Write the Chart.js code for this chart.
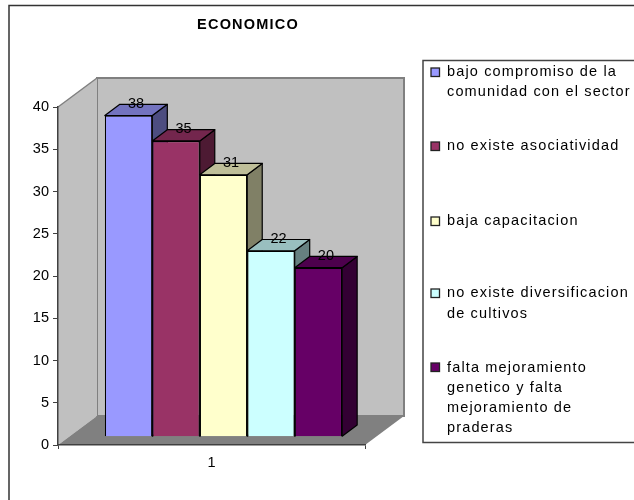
<!DOCTYPE html>
<html>
<head>
<meta charset="utf-8">
<style>
  html, body { margin: 0; padding: 0; background: #fff; }
  canvas { display: block; }
</style>
<script src="https://cdn.jsdelivr.net/npm/chart.js@4/dist/chart.umd.min.js"></script>
</head>
<body>
<canvas id="chart" width="634" height="500"></canvas>
<script>
const chartTitle = 'ECONOMICO';
const categories = ['1'];
const seriesNames = [
  ['bajo compromiso de la', 'comunidad con el sector'],
  ['no existe asociatividad'],
  ['baja capacitacion'],
  ['no existe diversificacion', 'de cultivos'],
  ['falta mejoramiento', 'genetico y falta', 'mejoramiento de', 'praderas']
];
const seriesValues = [38, 35, 31, 22, 20];
const frontColors = ['#9999ff', '#993366', '#ffffcc', '#ccffff', '#660066'];
const topColors = ['#7373bf', '#73264d', '#bfbf99', '#99bfbf', '#4d004d'];
const sideColors = ['#4d4d80', '#4d1a33', '#808066', '#668080', '#330033'];
const legendMarkerY = [72, 146, 221, 293, 367];
const legendTextY = [[72, 92], [146], [221], [293, 314], [368, 388, 408, 428]];

const fontFamily = '"Liberation Sans", Arial, sans-serif';
const fontSize = 14.5;
const textSpacing = '1.15px';

// the depth of the box, and where the bars sit inside it
const wallDepth = { x: 39, y: -29 };
const barShift = { x: 12, y: -8.3 };
const barDepth = { x: 15, y: -11.3 };

function poly(ctx, pts, fill, stroke, lineWidth) {
  ctx.beginPath();
  pts.forEach((p, i) => i ? ctx.lineTo(p[0], p[1]) : ctx.moveTo(p[0], p[1]));
  ctx.closePath();
  if (fill) {
    ctx.fillStyle = fill;
    ctx.fill();
  }
  if (stroke) {
    ctx.strokeStyle = stroke;
    ctx.lineWidth = lineWidth;
    ctx.stroke();
  }
}

const fakeThreeD = {
  id: 'fakeThreeD',
  beforeDraw(chart) {
    const ctx = chart.ctx;
    const a = chart.chartArea;
    ctx.save();

    // outer frame, the picture cuts it off on the right and at the bottom
    ctx.strokeStyle = '#333333';
    ctx.lineWidth = 1.5;
    ctx.beginPath();
    ctx.moveTo(9, 500);
    ctx.lineTo(9, 5.5);
    ctx.lineTo(634, 5.5);
    ctx.stroke();

    // walls and floor
    const bl = a.left + wallDepth.x, br = a.right + wallDepth.x;
    const bt = a.top + wallDepth.y, bb = a.bottom + wallDepth.y;
    poly(ctx, [[bl, bt], [br, bt], [br, bb], [bl, bb]], '#c0c0c0', '#808080', 2);
    poly(ctx, [[a.left, a.top], [bl, bt], [bl, bb], [a.left, a.bottom]], '#c0c0c0', null);
    ctx.strokeStyle = '#808080';
    ctx.lineWidth = 1.5;
    ctx.beginPath();
    ctx.moveTo(a.left, a.top);
    ctx.lineTo(bl, bt);
    ctx.stroke();
    poly(ctx, [[a.left, a.bottom], [a.right, a.bottom], [br, bb], [bl, bb]], '#808080', null);

    // title and legend
    ctx.letterSpacing = '1.2px';
    ctx.fillStyle = '#000';
    ctx.textBaseline = 'middle';
    ctx.textAlign = 'center';
    ctx.font = 'bold ' + fontSize + 'px ' + fontFamily;
    ctx.fillText(chartTitle, 248, 25);

    ctx.strokeStyle = '#444444';
    ctx.lineWidth = 1.5;
    ctx.beginPath();
    ctx.moveTo(634, 60.5);
    ctx.lineTo(423, 60.5);
    ctx.lineTo(423, 442.5);
    ctx.lineTo(634, 442.5);
    ctx.stroke();

    ctx.letterSpacing = textSpacing;
    ctx.textAlign = 'left';
    ctx.font = fontSize + 'px ' + fontFamily;
    seriesNames.forEach((lines, i) => {
      ctx.fillStyle = frontColors[i];
      ctx.strokeStyle = '#222222';
      ctx.lineWidth = 1.3;
      ctx.fillRect(431, legendMarkerY[i] - 4, 8.5, 8.5);
      ctx.strokeRect(431, legendMarkerY[i] - 4, 8.5, 8.5);
      ctx.fillStyle = '#000';
      lines.forEach((line, j) => ctx.fillText(line, 447, legendTextY[i][j]));
    });
    ctx.restore();
  },
  beforeDatasetsDraw(chart) {
    const ctx = chart.ctx;
    // side and top faces go left to right, then the library draws the fronts over them
    ctx.save();
    ctx.lineJoin = 'round';
    seriesValues.forEach((v, i) => {
      const bar = chart.getDatasetMeta(i).data[0];
      const r = bar.x + bar.width / 2 + barShift.x;
      const l = bar.x - bar.width / 2 + barShift.x;
      const t = bar.y + barShift.y;
      const b = bar.base + barShift.y;
      const dx = barDepth.x, dy = barDepth.y;
      poly(ctx, [[r, t], [r + dx, t + dy], [r + dx, b + dy], [r, b]], sideColors[i], '#000', 1.2);
      poly(ctx, [[l, t], [l + dx, t + dy], [r + dx, t + dy], [r, t]], topColors[i], '#000', 1.2);
    });
    ctx.restore();
    ctx.save();
    ctx.translate(barShift.x, barShift.y);
  },
  afterDatasetsDraw(chart) {
    const ctx = chart.ctx;
    ctx.restore();
    ctx.save();
    ctx.fillStyle = '#000';
    ctx.font = fontSize + 'px ' + fontFamily;
    ctx.textAlign = 'center';
    ctx.textBaseline = 'middle';
    seriesValues.forEach((v, i) => {
      const bar = chart.getDatasetMeta(i).data[0];
      ctx.fillText(String(v), bar.x + barShift.x + barDepth.x / 2, bar.y + barShift.y - 11.5);
    });
    ctx.restore();
  }
};

const ctx = document.getElementById('chart').getContext('2d');
ctx.letterSpacing = textSpacing;

new Chart(ctx, {
  type: 'bar',
  data: {
    labels: categories,
    datasets: seriesValues.map((v, i) => ({
      label: seriesNames[i].join(' '),
      data: [v],
      backgroundColor: frontColors[i],
      borderColor: '#000',
      borderWidth: 1.2,
      clip: false
    }))
  },
  options: {
    responsive: false,
    animation: false,
    layout: { padding: { left: 0, right: 269, top: 107, bottom: 25 } },
    datasets: { bar: { categoryPercentage: 0.773, barPercentage: 1 } },
    plugins: { legend: { display: false }, title: { display: false }, tooltip: { enabled: false } },
    scales: {
      x: {
        afterFit: s => { s.height = 30; },
        border: { color: '#404040', width: 1.5 },
        grid: { drawOnChartArea: false, tickLength: 4, color: '#404040' },
        ticks: { color: '#000', padding: 5, font: { family: fontFamily, size: fontSize } }
      },
      y: {
        min: 0,
        max: 40,
        afterFit: s => { s.width = 58; },
        border: { color: '#404040', width: 1.5 },
        grid: { drawOnChartArea: false, tickLength: 5, color: '#404040' },
        ticks: { stepSize: 5, color: '#000', padding: 4, font: { family: fontFamily, size: fontSize } }
      }
    }
  },
  plugins: [fakeThreeD]
});
</script>
</body>
</html>
